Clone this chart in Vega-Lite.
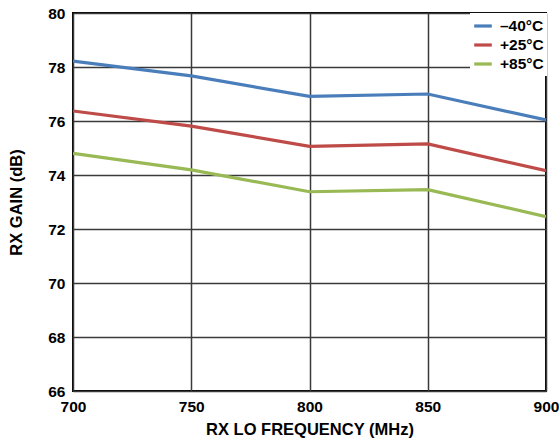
{
  "$schema": "https://vega.github.io/schema/vega-lite/v6.json",
  "autosize": "none",
  "width": 473,
  "height": 378,
  "padding": {"left": 73, "top": 13, "right": 13, "bottom": 56},
  "background": "white",
  "config": {
    "font": "Liberation Sans",
    "view": {"stroke": "black", "strokeWidth": 2},
    "axis": {
      "labelFont": "Liberation Sans",
      "labelFontWeight": "bold",
      "labelFontSize": 15.5,
      "labelColor": "black",
      "titleFont": "Liberation Sans",
      "titleFontWeight": "bold",
      "titleFontSize": 16.5,
      "titleColor": "black",
      "domain": false,
      "ticks": false,
      "grid": true,
      "gridColor": "#3a3a3a",
      "gridWidth": 1.5,
      "gridOpacity": 1
    }
  },
  "data": {
    "values": [
      {"freq": 700, "temp": "–40°C", "gain": 78.22},
      {"freq": 750, "temp": "–40°C", "gain": 77.67},
      {"freq": 800, "temp": "–40°C", "gain": 76.91},
      {"freq": 850, "temp": "–40°C", "gain": 77.0},
      {"freq": 900, "temp": "–40°C", "gain": 76.04},
      {"freq": 700, "temp": "+25°C", "gain": 76.37},
      {"freq": 750, "temp": "+25°C", "gain": 75.81},
      {"freq": 800, "temp": "+25°C", "gain": 75.06},
      {"freq": 850, "temp": "+25°C", "gain": 75.15},
      {"freq": 900, "temp": "+25°C", "gain": 74.16},
      {"freq": 700, "temp": "+85°C", "gain": 74.8},
      {"freq": 750, "temp": "+85°C", "gain": 74.19},
      {"freq": 800, "temp": "+85°C", "gain": 73.38},
      {"freq": 850, "temp": "+85°C", "gain": 73.46},
      {"freq": 900, "temp": "+85°C", "gain": 72.46}
    ]
  },
  "mark": {"type": "line", "strokeWidth": 3.2, "clip": true},
  "encoding": {
    "x": {
      "field": "freq",
      "type": "quantitative",
      "scale": {"domain": [700, 900], "nice": false, "zero": false},
      "axis": {
        "values": [700, 750, 800, 850, 900],
        "title": "RX LO FREQUENCY (MHz)",
        "labelPadding": 8,
        "titlePadding": 7,
        "labelFlush": false
      }
    },
    "y": {
      "field": "gain",
      "type": "quantitative",
      "scale": {"domain": [66, 80], "nice": false, "zero": false},
      "axis": {
        "values": [66, 68, 70, 72, 74, 76, 78, 80],
        "title": "RX GAIN (dB)",
        "labelPadding": 8,
        "titlePadding": 23
      }
    },
    "color": {
      "field": "temp",
      "type": "nominal",
      "scale": {
        "domain": ["–40°C", "+25°C", "+85°C"],
        "range": ["#4a7ebb", "#be4b48", "#98b954"]
      },
      "legend": {
        "title": null,
        "orient": "none",
        "legendX": 397,
        "legendY": 0,
        "fillColor": "white",
        "padding": 3,
        "symbolType": "M-1.1,0L1.1,0",
        "symbolSize": 256,
        "symbolStrokeWidth": 3.2,
        "symbolFillColor": "transparent",
        "labelFont": "Liberation Sans",
        "labelFontWeight": "bold",
        "labelFontSize": 15.5,
        "labelColor": "black",
        "rowPadding": 0,
        "labelOffset": 7
      }
    }
  }
}
